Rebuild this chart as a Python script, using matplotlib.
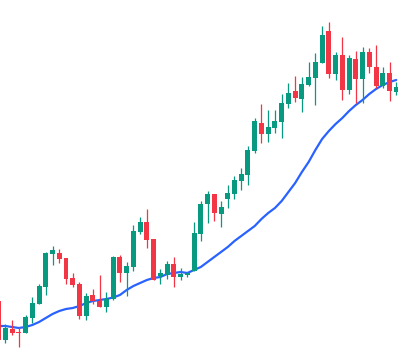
import matplotlib
matplotlib.use("Agg")
import matplotlib.pyplot as plt
import numpy as np

# OHLC values (arbitrary price units)
opens = [52, 13, 24, 21.5, 20, 35, 49, 66, 99, 100,
         95, 75, 69, 37, 58, 52, 46, 54, 96, 80,
         86, 121, 131, 114, 77, 78, 89, 76, 78, 82,
         119, 149, 159, 139, 154, 159, 172, 178, 202, 230,
         219, 225, 231, 249, 262, 254, 268, 275, 290, 322,
         279, 298, 263, 294, 274, 301, 286, 267, 280, 261]
highs = [54, 29, 33, 26, 38, 56, 69, 101, 107, 104,
         95, 80, 71, 60, 64, 78, 61, 97, 98, 91,
         128, 136, 144, 114, 84, 92, 96, 85, 81, 131,
         152, 162, 159, 152, 168, 177, 185, 207, 235, 249,
         243, 243, 259, 270, 277, 276, 291, 300, 327, 331,
         301, 316, 298, 302, 306, 305, 308, 286, 291, 271]
lows = [11, 10, 18, 6, 20, 30, 49, 58, 88, 90,
        69, 66, 34, 33, 49, 46, 41, 53, 71, 57,
        82, 119, 105, 73, 69, 74, 66, 73, 76, 82,
        112, 130, 132, 126, 145, 154, 163, 168, 200, 210,
        211, 220, 215, 245, 251, 241, 267, 248, 290, 275,
        273, 253, 259, 250, 250, 280, 265, 265, 252, 258]
closes = [13, 25, 20, 20.5, 36, 50, 67, 100, 103, 94,
          74, 68, 37, 57, 52, 46, 54, 96, 80, 87,
          122, 131, 113, 73, 80, 89, 76, 79, 80, 120,
          149, 159, 140, 146, 160, 173, 179, 203, 232, 219,
          226, 232, 250, 260, 255, 269, 276, 291, 318, 279,
          298, 263, 295, 274, 301, 286, 267, 280, 262, 266]
# moving average line
ma = [27, 27, 26, 25, 26, 28, 31, 35, 39, 42,
      44, 45, 47, 50, 52, 53, 54, 55.5, 58, 63,
      67, 70, 73, 75, 76, 79, 80, 81, 80, 83,
      86, 91, 96, 101, 106, 112, 117, 122, 127, 134,
      140, 145, 152, 161, 170, 181, 191, 203, 214, 222,
      229, 235, 242, 248, 253, 259, 264, 268, 271, 273]

UP = "#089981"
DOWN = "#F23645"
LINE = "#2962FF"

idx = np.arange(len(opens))
o = np.array(opens, dtype=float)
c = np.array(closes, dtype=float)
colors = [UP if cc >= oo else DOWN for oo, cc in zip(o, c)]

fig = plt.figure(figsize=(3.98, 3.53), dpi=100)
ax = fig.add_axes([0, 0, 1, 1])
ax.set_axis_off()

ax.plot(idx, ma, color=LINE, linewidth=1.6, zorder=1, solid_capstyle="round")
ax.vlines(idx, lows, highs, colors=colors, linewidth=0.9, zorder=2)
body = np.where(np.abs(c - o) < 1, np.sign(c - o + 1e-9) * 1.0, c - o)
ax.bar(idx, body, bottom=o, width=0.74, color=colors, linewidth=0, zorder=3)

ax.set_xlim(0.208, 59.26)
ax.set_ylim(0, 353)

fig.savefig("out.png", dpi=100)
